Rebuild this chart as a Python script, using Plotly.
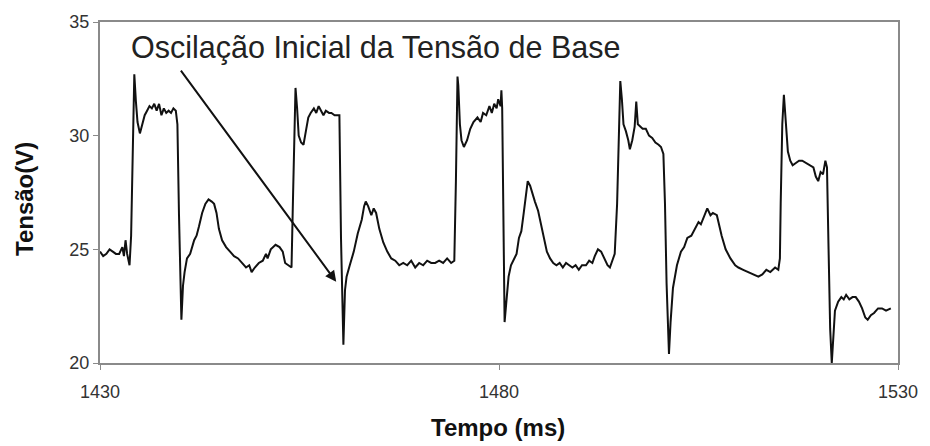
import plotly.graph_objects as go

# Sampled base voltage trace
tempo_ms = [
    1430.0, 1430.4, 1430.8, 1431.2, 1431.6, 1432.0, 1432.4, 1432.8, 1433.0, 1433.2,
    1433.4, 1433.7, 1433.9, 1434.1, 1434.3, 1434.5, 1434.7, 1435.0, 1435.3, 1435.6,
    1435.9, 1436.2, 1436.5, 1436.8, 1437.1, 1437.4, 1437.7, 1438.0, 1438.3, 1438.6,
    1438.9, 1439.2, 1439.5, 1439.7, 1439.9, 1440.1, 1440.2, 1440.4, 1440.6, 1440.9,
    1441.3, 1441.8, 1442.1, 1442.4, 1442.8, 1443.2, 1443.6, 1444.0, 1444.3, 1444.6,
    1444.9, 1445.3, 1445.8, 1446.3, 1446.8, 1447.3, 1447.8, 1448.3, 1448.7, 1449.0,
    1449.4, 1449.9, 1450.4, 1450.8, 1451.0, 1451.4, 1452.0, 1452.5, 1452.9, 1453.2,
    1453.6, 1454.0, 1454.2, 1454.4, 1454.5, 1454.7, 1454.9, 1455.2, 1455.5, 1455.8,
    1456.1, 1456.4, 1456.8, 1457.1, 1457.4, 1457.7, 1458.0, 1458.3, 1458.7, 1459.0,
    1459.4, 1459.8, 1460.0, 1460.2, 1460.4, 1460.5, 1460.7, 1460.9, 1461.3, 1461.8,
    1462.3, 1462.8, 1463.1, 1463.3, 1463.6, 1464.0, 1464.3, 1464.6, 1465.0, 1465.5,
    1466.0, 1466.5, 1467.0, 1467.5, 1468.0, 1468.5, 1469.0, 1469.5, 1470.0, 1470.5,
    1471.0, 1471.5, 1472.0, 1472.5, 1473.0, 1473.5, 1474.0, 1474.4, 1474.6, 1474.8,
    1474.9, 1475.1, 1475.3, 1475.6, 1476.0, 1476.4, 1476.8, 1477.3, 1477.7, 1478.0,
    1478.4, 1478.8, 1479.1, 1479.4, 1479.7, 1479.9, 1480.2, 1480.3, 1480.4, 1480.5,
    1480.6, 1480.7, 1480.9, 1481.2, 1481.5, 1481.9, 1482.2, 1482.5, 1482.8, 1483.1,
    1483.4, 1483.6, 1483.9, 1484.2, 1484.5, 1484.9, 1485.3, 1485.7, 1486.0, 1486.4,
    1486.8, 1487.2, 1487.6, 1488.0, 1488.4, 1488.8, 1489.2, 1489.6, 1490.0, 1490.4,
    1490.9, 1491.3, 1491.7, 1492.0, 1492.4, 1492.8, 1493.2, 1493.6, 1493.9, 1494.2,
    1494.5, 1494.8, 1495.0, 1495.2, 1495.4, 1495.6, 1495.9, 1496.2, 1496.4, 1496.7,
    1497.0, 1497.2, 1497.4, 1497.7, 1498.0, 1498.4, 1498.8, 1499.2, 1499.6, 1500.0,
    1500.3, 1500.6, 1500.8, 1501.0, 1501.2, 1501.3, 1501.5, 1501.8, 1502.3, 1502.8,
    1503.2, 1503.6, 1504.1, 1504.6, 1505.0, 1505.3, 1505.7, 1506.1, 1506.5, 1506.8,
    1507.3, 1507.9, 1508.4, 1509.0, 1509.6, 1510.0, 1510.6, 1511.2, 1511.8, 1512.5,
    1513.0, 1513.5, 1514.0, 1514.6, 1515.0, 1515.2, 1515.3, 1515.5, 1515.7, 1515.9,
    1516.2, 1516.5, 1516.8, 1517.2, 1517.6, 1518.0, 1518.5, 1519.0, 1519.4, 1519.7,
    1520.0, 1520.3, 1520.6, 1520.9, 1521.1, 1521.3, 1521.5, 1521.7, 1521.9, 1522.1,
    1522.5, 1522.9, 1523.2, 1523.5, 1523.9, 1524.3, 1524.7, 1525.1, 1525.5, 1525.9,
    1526.2, 1526.6, 1527.0, 1527.5, 1528.0, 1528.5, 1529.1,
]

tensao_v = [
    24.9, 24.7, 24.8, 25.0, 24.9, 24.8, 24.8, 25.1, 24.7, 25.4,
    24.8, 24.3, 25.6, 29.5, 32.7, 31.5, 30.6, 30.1, 30.5, 30.9,
    31.1, 31.3, 31.2, 31.4, 31.1, 31.4, 30.9, 31.2, 31.0, 31.1,
    31.0, 31.2, 31.1, 30.5, 26.5, 22.8, 21.9, 23.4, 24.0, 24.6,
    24.8, 25.4, 25.6, 26.0, 26.6, 27.0, 27.2, 27.1, 27.0, 26.6,
    25.9, 25.4, 25.1, 24.9, 24.7, 24.6, 24.4, 24.2, 24.3, 24.0,
    24.2, 24.4, 24.5, 24.8, 24.6, 25.0, 25.2, 25.1, 24.9, 24.4,
    24.3, 24.2, 27.5, 31.8, 32.1, 31.2, 30.0, 29.7, 29.6, 30.2,
    30.8, 31.0, 31.2, 31.0, 31.3, 31.1, 30.9, 31.1, 31.0, 31.0,
    30.9, 30.9, 30.9, 25.5, 22.0, 20.8, 23.2, 23.8, 24.3, 24.9,
    25.7, 26.3, 26.9, 27.1, 26.9, 26.5, 26.8, 26.6, 25.9, 25.3,
    24.9, 24.6, 24.5, 24.3, 24.4, 24.3, 24.5, 24.2, 24.4, 24.3,
    24.5, 24.4, 24.4, 24.5, 24.4, 24.6, 24.4, 24.5, 28.0, 32.6,
    32.2, 30.5, 29.8, 29.5, 29.8, 30.3, 30.6, 30.8, 30.6, 31.0,
    30.9, 31.3, 31.0, 31.4, 31.2, 31.6, 31.3, 32.0, 31.2, 27.0,
    23.0, 21.8, 22.6, 23.8, 24.3, 24.6, 24.8, 25.5, 25.8, 26.6,
    27.5, 28.0, 27.8, 27.4, 27.1, 26.7, 26.0, 25.4, 24.9, 24.6,
    24.4, 24.3, 24.4, 24.2, 24.4, 24.3, 24.2, 24.3, 24.1, 24.3,
    24.3, 24.5, 24.4, 24.7, 25.0, 24.9, 24.6, 24.3, 24.2, 24.5,
    24.8, 27.0, 30.5, 32.4, 31.6, 30.5, 30.2, 29.8, 29.4, 29.8,
    30.4, 31.5, 30.5, 30.4, 30.3, 30.3, 30.0, 29.9, 29.7, 29.6,
    29.5, 29.2, 27.0, 23.5, 20.7, 20.4, 21.8, 23.3, 24.3, 24.9,
    25.1, 25.5, 25.6, 25.9, 26.2, 26.1, 26.5, 26.8, 26.5, 26.6,
    26.5, 25.6, 25.0, 24.6, 24.3, 24.2, 24.1, 24.0, 23.9, 23.8,
    23.9, 24.1, 24.0, 24.2, 24.1, 24.6, 27.0, 30.5, 31.8, 30.8,
    29.3, 28.9, 28.7, 28.8, 28.9, 28.9, 28.8, 28.7, 28.6, 28.2,
    28.0, 28.4, 28.3, 28.9, 28.6, 25.0, 21.5, 20.0, 21.2, 22.3,
    22.7, 22.9, 22.8, 23.0, 22.8, 22.9, 22.9, 22.7, 22.4, 22.0,
    21.9, 22.1, 22.2, 22.4, 22.4, 22.3, 22.4,
]

x_ticks = [1430, 1480, 1530]
y_ticks = [20, 25, 30, 35]

nota_texto = "Oscilação Inicial da Tensão de Base"
# arrow from the note down to the first base-voltage dip
seta_inicio = (1440.0, 32.93)
seta_fim = (1459.6, 23.57)

FONT = "Arial, 'Liberation Sans', sans-serif"
AXIS_GRAY = "#8a8a8a"

W, H = 930, 446
ML, MR, MT, MB = 100, 26, 17, 83
pw, ph = W - ML - MR, H - MT - MB


def px_to_paper(px, py):
    """Pixel position on the page -> paper coordinates of the plot area."""
    return (px - ML) / pw, 1 - (py - MT) / ph


fig = go.Figure()
fig.add_trace(go.Scatter(
    x=tempo_ms, y=tensao_v, mode="lines",
    line=dict(color="#111111", width=2),
    showlegend=False, hoverinfo="x+y",
))

fig.add_annotation(
    x=seta_fim[0], y=seta_fim[1], ax=seta_inicio[0], ay=seta_inicio[1],
    xref="x", yref="y", axref="x", ayref="y",
    text="", showarrow=True, arrowhead=2, arrowsize=1.1,
    arrowwidth=2, arrowcolor="#111111",
)

nx, ny = px_to_paper(129, 43)
fig.add_annotation(
    x=nx, y=ny, xref="paper", yref="paper",
    xanchor="left", yanchor="middle",
    text=nota_texto, showarrow=False,
    font=dict(family=FONT, size=30.5, color="#222222"),
)

tx, ty = px_to_paper(24, 197)
fig.add_annotation(
    x=tx, y=ty, xref="paper", yref="paper",
    xanchor="center", yanchor="middle",
    text="<b>Tensão(V)</b>", showarrow=False, textangle=-90,
    font=dict(family=FONT, size=24, color="#111111"),
)

bx, by = px_to_paper(501, 428)
fig.add_annotation(
    x=bx, y=by, xref="paper", yref="paper",
    xanchor="center", yanchor="middle",
    text="<b>Tempo (ms)</b>", showarrow=False,
    font=dict(family=FONT, size=24, color="#111111"),
)

fig.update_xaxes(
    range=[1430, 1530], tickvals=x_ticks, ticktext=[str(t) for t in x_ticks],
    showline=True, linecolor=AXIS_GRAY, linewidth=2, mirror=True,
    ticks="outside", ticklen=5, tickcolor=AXIS_GRAY, tickwidth=1,
    ticklabelstandoff=6,
    showgrid=False, zeroline=False,
    tickfont=dict(family=FONT, size=18, color="#333333"),
)
fig.update_yaxes(
    range=[20, 35], tickvals=y_ticks, ticktext=[str(t) for t in y_ticks],
    showline=True, linecolor=AXIS_GRAY, linewidth=2, mirror=True,
    ticks="outside", ticklen=5, tickcolor=AXIS_GRAY, tickwidth=1,
    showgrid=False, zeroline=False,
    tickfont=dict(family=FONT, size=18, color="#333333"),
)
fig.update_layout(
    width=W, height=H,
    margin=dict(l=ML, r=MR, t=MT, b=MB),
    paper_bgcolor="white", plot_bgcolor="white",
)

fig.write_html("out.html")
